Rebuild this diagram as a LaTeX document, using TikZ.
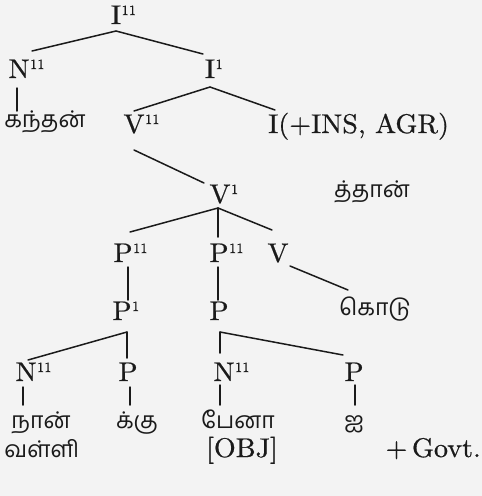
\documentclass[tikz,border=0pt]{standalone}
\usepackage{fontspec}
\setmainfont{lmroman10-regular}[Extension=.otf, FakeStretch=1.04, FakeBold=0.6]
\newfontfamily\tamil[Script=Tamil]{Hind Madurai}
\usetikzlibrary{calc}
\definecolor{ink}{HTML}{1A1A1A}
\definecolor{paper}{HTML}{F3F3F3}
\newcommand\bars[1]{\rlap{\hspace{0.5pt}\raisebox{9pt}{\fontsize{14}{14}\selectfont #1}}}
\begin{document}
\begin{tikzpicture}[x=1pt,y=-1pt,
  lab/.style={inner sep=0pt, anchor=base, font=\fontsize{27}{30}\selectfont, text=ink},
  tam/.style={inner sep=0pt, anchor=base, font=\fontsize{23}{26}\selectfont\tamil, text=ink},
  edge/.style={draw=ink, line width=1.5pt, line cap=round}]
\fill[paper] (0,0) rectangle (482,496);
\useasboundingbox (0,0) rectangle (482,496);

% labels
\node[lab] (I2)  at (116,24)  {I\bars{11}};
\node[lab] (N2a) at (19,78)   {N\bars{11}};
\node[lab] (I1)  at (210,78)  {I\bars{1}};
\node[tam] (T1)  at (45,127)  {கந்தன்};
\node[lab] (V2)  at (134,133) {V\bars{11}};
\node[lab, anchor=base west] (IA) at (268,133) {I(+INS, AGR)};
\node[lab] (V1)  at (220,203) {V\bars{1}};
\node[tam] (T2)  at (372,197) {த்தான்};
\node[lab] (P2a) at (123,262) {P\bars{11}};
\node[lab] (P2b) at (219,262) {P\bars{11}};
\node[lab] (V0)  at (278,262) {V};
\node[lab] (P1a) at (122,320) {P\bars{1}};
\node[lab] (P1b) at (219,320) {P};
\node[tam] (T3)  at (375,315) {கொடு};
\node[lab] (N2b) at (26,381)  {N\bars{11}};
\node[lab] (P0a) at (128,381) {P};
\node[lab] (N2c) at (224,381) {N\bars{11}};
\node[lab] (P0b) at (354,381) {P};
\node[tam] (T4)  at (41,428)  {நான்};
\node[tam] (T5)  at (137,428) {க்கு};
\node[tam] (T6)  at (238,428) {பேனா};
\node[tam] (T7)  at (354,428) {ஐ};
\node[tam] (T8)  at (42,457)  {வள்ளி};
\node[lab] (OBJ) at (242,457) {[OBJ]};
\node[lab, anchor=base east] (GOV) at (481,457) {+\,Govt.};

% connectors
\draw[edge] ($(I2.base)+(0,7)$) -- ($(N2a.base)+(13,-27)$);
\draw[edge] ($(I2.base)+(0,7)$) -- ($(I1.base)+(-7,-24)$);
\draw[edge] ($(N2a.base)+(-2,10)$) -- ($(T1.base)+(-28,-16)$);
\draw[edge] ($(I1.base)+(0,9)$) -- ($(V2.base)+(0,-22)$);
\draw[edge] ($(I1.base)+(0,9)$) -- ($(IA.base west)+(7,-23)$);
\draw[edge] ($(V2.base)+(0,17)$) -- ($(V1.base)+(-16,-20)$);
\draw[edge] ($(V1.base)+(-2,5)$) -- ($(P2a.base)+(7,-30)$);
\draw[edge] ($(V1.base)+(-2,5)$) -- ($(P2b.base)+(-1,-25)$);
\draw[edge] ($(V1.base)+(-2,5)$) -- ($(V0.base)+(-6,-32)$);
\draw[edge] ($(P2a.base)+(5,5)$) -- ($(P1a.base)+(6,-20)$);
\draw[edge] ($(P2b.base)+(-1,5)$) -- ($(P1b.base)+(-1,-20)$);
\draw[edge] ($(V0.base)+(12,4)$) -- ($(T3.base)+(-27,-25)$);
\draw[edge] ($(P1a.base)+(5,12)$) -- ($(N2b.base)+(2,-21)$);
\draw[edge] ($(P1a.base)+(5,12)$) -- ($(P0a.base)+(-1,-23)$);
\draw[edge] ($(P1b.base)+(1,12)$) -- ($(N2c.base)+(-4,-28)$);
\draw[edge] ($(P1b.base)+(1,12)$) -- ($(P0b.base)+(-11,-26)$);
\draw[edge] ($(N2b.base)+(-3,6)$) -- ($(T4.base)+(-18,-23)$);
\draw[edge] ($(P0a.base)+(2,6)$) -- ($(T5.base)+(-7,-23)$);
\draw[edge] ($(N2c.base)+(-4,4)$) -- ($(T6.base)+(-18,-23)$);
\draw[edge] ($(P0b.base)+(1,4)$) -- ($(T7.base)+(1,-23)$);
\end{tikzpicture}
\end{document}
